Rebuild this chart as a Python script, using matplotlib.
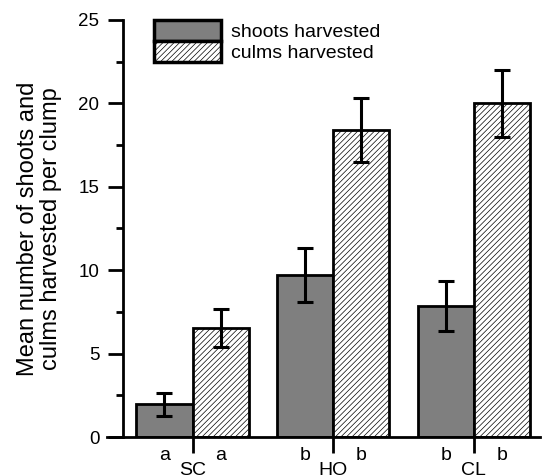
import matplotlib
matplotlib.use("Agg")
import matplotlib.pyplot as plt
import numpy as np
from matplotlib.transforms import blended_transform_factory
from matplotlib.patches import Patch
from matplotlib.ticker import MultipleLocator

plt.rcParams['font.family'] = ['Liberation Sans', 'DejaVu Sans']
plt.rcParams['hatch.color'] = '#ababab'
plt.rcParams['hatch.linewidth'] = 0.5

sites = ['SC', 'HO', 'CL']
shoots_mean = [1.95, 9.7, 7.85]
shoots_err = [0.7, 1.6, 1.5]
culms_mean = [6.55, 18.4, 20.0]
culms_err = [1.15, 1.9, 2.0]
letters_shoots = ['a', 'b', 'b']
letters_culms = ['a', 'b', 'b']
series_labels = ['shoots harvested', 'culms harvested']
yticks = [0, 5, 10, 15, 20, 25]

fig = plt.figure(figsize=(5.42, 4.75), dpi=100)
ax = fig.add_axes([0.197, 0.080, 0.799, 0.878])

x = np.arange(len(sites))
w = 0.4
lw = 2.0
ax.bar(x - w/2, shoots_mean, w, color='#7f7f7f', edgecolor='black', linewidth=lw, zorder=2)
ax.bar(x + w/2, culms_mean, w, color='white', edgecolor='black', linewidth=lw,
       hatch='//////', zorder=2)
ax.errorbar(x - w/2, shoots_mean, yerr=shoots_err, fmt='none', ecolor='black',
            elinewidth=2.2, capsize=6, capthick=2.2, zorder=3)
ax.errorbar(x + w/2, culms_mean, yerr=culms_err, fmt='none', ecolor='black',
            elinewidth=2.2, capsize=6, capthick=2.2, zorder=3)

ax.set_xlim(-0.61, 2.47)
ax.set_ylim(0, 25)
ax.set_yticks(yticks)
ax.set_yticklabels([str(t) for t in yticks])
ax.yaxis.set_minor_locator(MultipleLocator(2.5))
ax.spines['top'].set_visible(False)
ax.spines['right'].set_visible(False)
ax.spines['left'].set_position(('data', -0.495))
ax.spines['left'].set_linewidth(2)
ax.spines['bottom'].set_linewidth(2)
ax.tick_params(axis='y', which='major', direction='out', length=11, width=2, pad=6,
               labelsize=13.5)
ax.tick_params(axis='y', which='minor', direction='out', length=5, width=2)
ax.set_xticks(x)
ax.set_xticklabels([''] * len(sites))
ax.tick_params(axis='x', direction='out', length=11.5, width=2)

trans = blended_transform_factory(ax.transData, ax.transAxes)
for i in range(len(sites)):
    ax.annotate(letters_shoots[i], (x[i] - w/2, 0), xycoords=trans, xytext=(0, -13),
                textcoords='offset points', ha='center', va='center', fontsize=14)
    ax.annotate(letters_culms[i], (x[i] + w/2, 0), xycoords=trans, xytext=(0, -13),
                textcoords='offset points', ha='center', va='center', fontsize=14)
    ax.annotate(sites[i], (x[i], 0), xycoords=trans, xytext=(0, -24),
                textcoords='offset points', ha='center', va='center', fontsize=14)

ax.set_ylabel('Mean number of shoots and\nculms harvested per clump', fontsize=17,
              linespacing=1.05)
ax.yaxis.set_label_coords(-0.103, 0.5)

handles = [Patch(facecolor='#7f7f7f', edgecolor='black', linewidth=2.5),
           Patch(facecolor='white', edgecolor='black', linewidth=2.5, hatch='//////')]
ax.legend(handles, series_labels, loc='upper left', bbox_to_anchor=(0.11, 1.0),
          frameon=False, fontsize=14, handlelength=3.45, handleheight=1.3,
          labelspacing=0.0, handletextpad=0.5, borderaxespad=0, borderpad=0)

fig.savefig('out.png', dpi=100)
